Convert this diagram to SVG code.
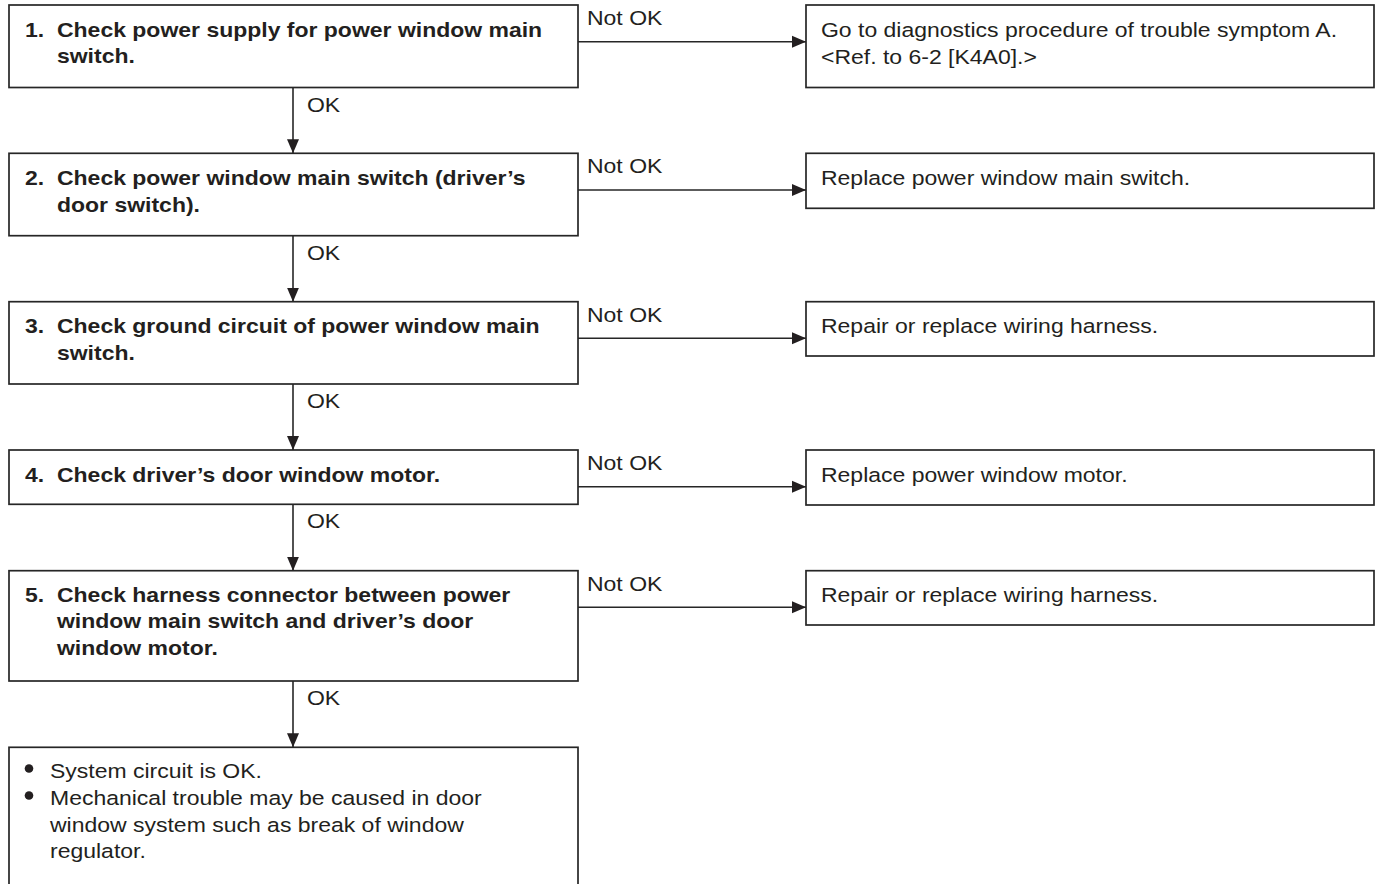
<svg xmlns="http://www.w3.org/2000/svg" width="1377" height="884" viewBox="0 0 1377 884">
<style>
.box{fill:#fff;stroke:#262626;stroke-width:1.7}
.ln{fill:none;stroke:#262626;stroke-width:1.6}
.b{font-family:"Liberation Sans",Arial,sans-serif;font-size:20.5px;font-weight:bold;fill:#231f20}
.r{font-family:"Liberation Sans",Arial,sans-serif;font-size:20.5px;fill:#231f20}
</style>
<defs>
<marker id="ah" markerUnits="userSpaceOnUse" markerWidth="15" markerHeight="13" refX="14" refY="6.5" orient="auto">
<path d="M0,0.5 L14,6.5 L0,12.5 z" fill="#231f20"/>
</marker>
</defs>
<rect width="1377" height="884" fill="#fff"/>

<g id="connectors">
<line class="ln" x1="293" y1="87.5" x2="293" y2="153.3" marker-end="url(#ah)"/>
<line class="ln" x1="293" y1="235.7" x2="293" y2="301.7" marker-end="url(#ah)"/>
<line class="ln" x1="293" y1="384" x2="293" y2="450" marker-end="url(#ah)"/>
<line class="ln" x1="293" y1="504.3" x2="293" y2="570.7" marker-end="url(#ah)"/>
<line class="ln" x1="293" y1="681" x2="293" y2="747.3" marker-end="url(#ah)"/>
<line class="ln" x1="578" y1="41.7" x2="806" y2="41.7" marker-end="url(#ah)"/>
<line class="ln" x1="578" y1="190" x2="806" y2="190" marker-end="url(#ah)"/>
<line class="ln" x1="578" y1="338.3" x2="806" y2="338.3" marker-end="url(#ah)"/>
<line class="ln" x1="578" y1="486.7" x2="806" y2="486.7" marker-end="url(#ah)"/>
<line class="ln" x1="578" y1="607.3" x2="806" y2="607.3" marker-end="url(#ah)"/>
<text class="r" transform="translate(307,111.7) scale(1.122,1)">OK</text>
<text class="r" transform="translate(307,259.7) scale(1.122,1)">OK</text>
<text class="r" transform="translate(307,408) scale(1.122,1)">OK</text>
<text class="r" transform="translate(307,528.3) scale(1.122,1)">OK</text>
<text class="r" transform="translate(307,705) scale(1.122,1)">OK</text>
<text class="r" transform="translate(587,25) scale(1.122,1)">Not OK</text>
<text class="r" transform="translate(587,173.3) scale(1.122,1)">Not OK</text>
<text class="r" transform="translate(587,321.7) scale(1.122,1)">Not OK</text>
<text class="r" transform="translate(587,470) scale(1.122,1)">Not OK</text>
<text class="r" transform="translate(587,590.7) scale(1.122,1)">Not OK</text>
</g>

<g id="step1">
<rect class="box" x="9" y="5" width="569" height="82.5"/>
<text class="b" transform="translate(25,36.7) scale(1.122,1)"><tspan x="0">1.</tspan><tspan x="28.5">Check power supply for power window main</tspan><tspan x="28.5" dy="26.6">switch.</tspan></text>
</g>
<g id="result1">
<rect class="box" x="806" y="5" width="568" height="82.5"/>
<text class="r" transform="translate(821,37.3) scale(1.122,1)"><tspan x="0">Go to diagnostics procedure of trouble symptom A.</tspan><tspan x="0" dy="26.5">&lt;Ref. to 6-2 [K4A0].&gt;</tspan></text>
</g>

<g id="step2">
<rect class="box" x="9" y="153.3" width="569" height="82.4"/>
<text class="b" transform="translate(25,185) scale(1.122,1)"><tspan x="0">2.</tspan><tspan x="28.5">Check power window main switch (driver’s</tspan><tspan x="28.5" dy="26.7">door switch).</tspan></text>
</g>
<g id="result2">
<rect class="box" x="806" y="153.3" width="568" height="55"/>
<text class="r" transform="translate(821,185) scale(1.122,1)">Replace power window main switch.</text>
</g>

<g id="step3">
<rect class="box" x="9" y="301.7" width="569" height="82.3"/>
<text class="b" transform="translate(25,333.3) scale(1.122,1)"><tspan x="0">3.</tspan><tspan x="28.5">Check ground circuit of power window main</tspan><tspan x="28.5" dy="26.7">switch.</tspan></text>
</g>
<g id="result3">
<rect class="box" x="806" y="301.7" width="568" height="54.3"/>
<text class="r" transform="translate(821,333.3) scale(1.122,1)">Repair or replace wiring harness.</text>
</g>

<g id="step4">
<rect class="box" x="9" y="450" width="569" height="54.3"/>
<text class="b" transform="translate(25,481.7) scale(1.122,1)"><tspan x="0">4.</tspan><tspan x="28.5">Check driver’s door window motor.</tspan></text>
</g>
<g id="result4">
<rect class="box" x="806" y="450" width="568" height="55"/>
<text class="r" transform="translate(821,481.7) scale(1.122,1)">Replace power window motor.</text>
</g>

<g id="step5">
<rect class="box" x="9" y="570.7" width="569" height="110.3"/>
<text class="b" transform="translate(25,601.7) scale(1.122,1)"><tspan x="0">5.</tspan><tspan x="28.5">Check harness connector between power</tspan><tspan x="28.5" dy="26.7">window main switch and driver’s door</tspan><tspan x="28.5" dy="26.7">window motor.</tspan></text>
</g>
<g id="result5">
<rect class="box" x="806" y="570.7" width="568" height="54.3"/>
<text class="r" transform="translate(821,601.7) scale(1.122,1)">Repair or replace wiring harness.</text>
</g>

<g id="final">
<rect class="box" x="9" y="747.3" width="569" height="150"/>
<circle cx="29" cy="768.5" r="4.3" fill="#231f20"/>
<circle cx="29" cy="795.5" r="4.3" fill="#231f20"/>
<text class="r" transform="translate(50,778.3) scale(1.122,1)"><tspan x="0">System circuit is OK.</tspan><tspan x="0" dy="26.7">Mechanical trouble may be caused in door</tspan><tspan x="0" dy="26.7">window system such as break of window</tspan><tspan x="0" dy="26.7">regulator.</tspan></text>
</g>
</svg>
